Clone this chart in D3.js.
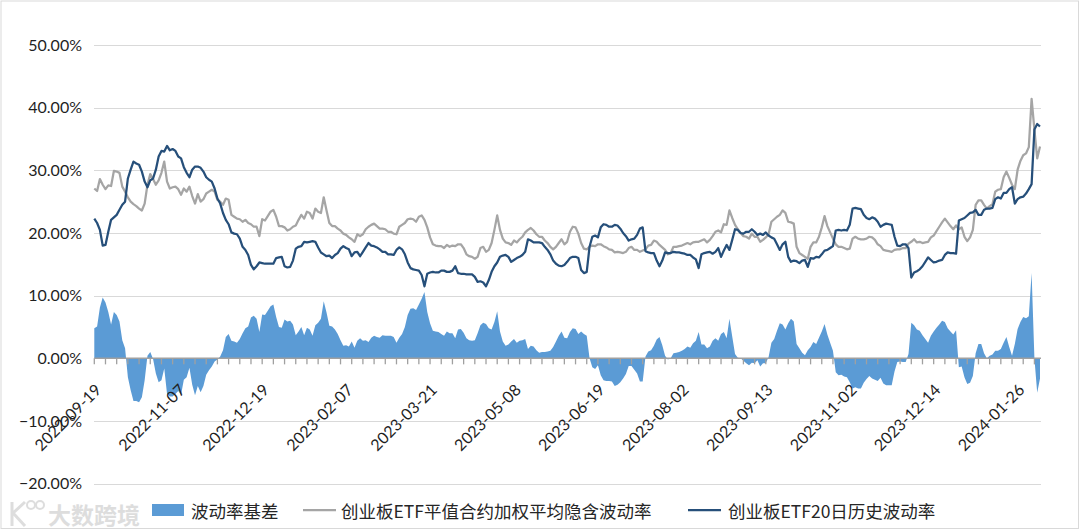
<!DOCTYPE html>
<html><head><meta charset="utf-8">
<script src="https://cdn.jsdelivr.net/npm/d3@7"></script>
<style>html,body{margin:0;padding:0;background:#fff;} svg{display:block;}</style>
</head><body>
<svg id="chart" width="1080" height="530"></svg>
<script>
// ---- data (trading-day index on the category axis) ----
const tickIndex  = [0,30,60,90,120,150,180,210,240,270,300,330];
const tickLabels = ["2022-09-19","2022-11-07","2022-12-19","2023-02-07","2023-03-21","2023-05-08",
                    "2023-06-19","2023-08-02","2023-09-13","2023-11-02","2023-12-14","2024-01-26"];
const yTicks = [-20,-10,0,10,20,30,40,50];
const seriesNames = ["波动率基差","创业板ETF平值合约加权平均隐含波动率","创业板ETF20日历史波动率"];

// 创业板ETF平值合约加权平均隐含波动率 (%)
const impliedVol = [
27.1,26.7,28.6,27.7,27.0,27.6,27.5,29.9,29.8,29.6,
27.4,26.6,25.7,25.0,24.6,24.3,23.9,23.6,24.7,27.7,
29.4,28.6,27.7,28.4,29.6,31.4,28.2,27.1,27.3,27.4,
27.0,26.1,27.1,26.6,27.4,25.9,24.7,26.2,25.0,25.4,
26.3,26.6,
26.9,26.6,25.3,25.0,24.5,25.5,25.3,22.9,22.6,
22.3,22.2,21.8,22.1,21.6,21.4,21.0,21.0,19.5,22.2,
22.0,22.7,23.4,23.7,22.6,21.1,21.1,20.9,20.4,20.6,
21.0,21.2,22.1,22.9,22.3,23.4,23.2,22.3,23.9,23.4,
23.2,25.7,23.6,21.6,21.1,21.1,20.7,20.4,19.9,19.7,
19.3,19.0,18.6,19.8,19.5,19.8,20.6,21.0,21.3,21.5,
21.1,20.7,20.7,20.6,20.2,20.2,19.9,19.8,21.0,21.3,
21.6,22.2,22.3,22.2,21.8,22.6,22.8,22.1,20.9,19.3,
18.2,18.0,
17.9,17.9,17.6,18.1,17.8,18.0,17.9,18.2,18.2,
17.6,16.6,16.3,16.2,15.9,16.2,17.6,17.8,17.0,17.3,
18.4,20.5,22.8,20.5,19.1,18.5,18.4,18.1,18.8,18.5,
19.0,19.4,20.1,20.5,20.8,20.4,19.8,19.4,19.4,18.8,
18.4,17.8,17.4,17.8,18.4,19.0,18.2,18.6,20.2,21.0,
20.9,19.9,18.4,17.5,17.4,17.8,18.0,17.9,18.2,18.2,
17.9,17.7,17.4,17.3,16.9,17.0,16.9,16.8,17.0,17.6,
17.8,17.3,17.3,17.0,17.2,17.4,18.0,18.1,18.8,18.6,
18.1,17.7,17.3,16.6,16.8,17.8,17.8,17.9,
18.0,18.2,18.4,
18.2,18.5,18.6,18.6,18.8,19.0,18.5,18.9,19.5,20.2,
20.4,20.1,21.4,21.3,23.6,22.4,21.3,20.6,20.0,19.5,
19.4,19.1,19.9,19.4,19.4,18.6,18.9,19.3,19.8,21.8,
22.2,22.6,22.9,23.6,23.2,21.8,21.7,21.5,17.8,16.8,
16.5,16.2,15.9,17.8,18.5,18.5,19.4,20.9,22.7,21.1,
20.1,19.1,18.2,17.8,17.8,17.6,17.4,17.5,19.1,19.4,
19.1,19.0,19.0,19.1,19.4,19.3,18.9,18.2,17.9,17.3,
17.2,17.1,
17.0,17.3,17.4,17.4,17.6,17.6,18.3,18.6,19.0,
18.5,18.6,18.4,18.5,18.6,19.3,19.6,20.3,21.0,21.7,
22.3,21.7,21.1,20.6,21.2,20.6,20.9,19.4,18.7,19.3,
20.5,24.5,25.2,25.2,24.5,23.9,24.3,24.6,26.6,26.9,
27.0,28.9,29.8,28.8,27.7,27.0,30.1,31.5,32.4,32.7,
33.7,41.4,36.5,31.9,33.8
];

// 创业板ETF20日历史波动率 (%)
const histVol = [
22.3,21.6,20.5,18.0,18.1,20.2,22.1,22.5,22.9,23.7,
24.5,25.0,28.7,30.1,31.4,31.1,30.9,29.8,28.2,27.3,
28.4,28.7,30.1,32.2,33.1,33.0,33.9,33.2,33.4,33.1,
32.2,31.9,30.5,29.6,28.9,30.1,30.6,30.6,30.4,29.8,
28.9,28.5,
28.2,27.1,25.5,24.7,23.2,22.1,21.4,20.1,19.9,
19.8,19.1,17.8,17.3,16.5,14.9,14.2,14.7,15.3,15.2,
15.1,15.1,15.1,15.1,16.0,16.1,16.2,14.7,14.5,14.6,
15.6,17.5,17.8,17.9,18.6,18.5,18.6,18.7,18.6,17.7,
16.9,16.6,16.3,16.4,16.0,16.5,16.8,17.5,17.9,17.6,
17.4,16.3,16.9,17.0,16.3,17.0,17.7,18.4,18.0,17.9,
17.7,17.4,17.0,17.0,16.6,16.6,16.5,17.3,17.7,17.4,
16.6,15.3,14.4,14.2,14.1,14.0,13.3,11.5,13.5,13.7,
13.8,13.7,
13.7,14.0,14.0,13.8,13.8,14.0,14.7,13.6,13.5,
13.5,13.4,13.4,13.4,13.0,12.2,12.3,12.1,11.5,12.5,
13.8,14.7,15.3,16.2,16.4,16.5,16.2,15.4,15.7,16.0,
16.2,16.5,17.0,19.0,18.8,18.5,18.5,18.5,18.4,17.8,
17.3,16.6,15.6,15.1,14.8,14.7,14.9,15.4,16.0,16.2,
16.2,16.0,14.1,13.6,13.8,17.8,19.4,19.6,19.3,20.9,
21.4,21.3,21.0,21.0,21.3,21.2,20.7,20.0,19.5,18.8,
19.0,19.1,19.7,20.7,20.9,17.1,16.9,16.8,16.8,15.6,
14.7,15.6,16.9,16.8,16.8,17.0,16.9,16.9,
16.8,16.7,16.5,
16.5,16.1,15.8,14.4,16.6,16.8,16.9,17.0,16.7,17.0,
17.6,16.2,17.2,18.1,17.3,18.9,20.6,20.5,20.0,19.9,
20.2,20.2,20.6,20.2,19.7,19.9,19.7,20.1,19.6,19.3,
19.1,18.2,17.3,18.2,18.6,16.2,15.4,15.6,15.5,15.2,
15.6,15.7,14.6,16.0,15.9,16.2,16.1,16.6,17.2,17.3,
17.6,17.9,20.4,20.5,20.4,20.5,20.4,21.3,23.9,24.0,
23.9,23.8,22.9,22.4,22.2,22.5,22.3,21.8,21.0,21.3,
21.5,21.4,
21.3,19.4,18.0,17.9,18.2,18.2,17.6,12.9,13.7,
13.9,14.2,14.7,15.4,16.1,15.7,15.3,15.4,15.6,15.7,
16.5,16.9,16.8,16.8,16.7,22.0,22.2,22.4,22.8,23.2,
23.3,23.7,22.9,22.9,23.7,23.9,23.9,24.0,25.4,25.7,
25.5,26.4,26.4,27.0,27.3,24.7,25.4,25.7,25.8,26.3,
27.0,27.8,36.5,37.4,37.0
];

// 波动率基差 = 隐含波动率 - 历史波动率
const basisVol = impliedVol.map((v, i) => +(v - histVol[i]).toFixed(2));

// ---- drawing ----
const svg = d3.select("#chart");
const W = 1080, H = 530;
const n = impliedVol.length;
const x = d3.scaleLinear().domain([0, n - 1]).range([94.3, 1040]);
const y = d3.scaleLinear().domain([-20, 50]).range([483.7, 45]);

const FONT_NUM = "Lato, 'Liberation Sans', sans-serif";
const FONT_CJK = "'Noto Sans CJK SC', 'Noto Sans', sans-serif";

// chart border
svg.append("rect").attr("x", 1).attr("y", 1).attr("width", W - 2.5).attr("height", H - 2.5)
  .attr("fill", "#fff").attr("stroke", "#d9d9d9").attr("stroke-width", 1);

// gridlines
svg.append("g").selectAll("line").data(yTicks.filter(t => t !== 0)).join("line")
  .attr("x1", 94).attr("x2", 1041)
  .attr("y1", d => Math.round(y(d)) + 0.5).attr("y2", d => Math.round(y(d)) + 0.5)
  .attr("stroke", "#d9d9d9").attr("stroke-width", 1);

// y axis labels
const yAxis = d3.axisLeft(y).tickValues(yTicks).tickSize(0).tickPadding(0)
  .tickFormat(d => d3.format(".2f")(d) + "%");
const gy = svg.append("g").attr("transform", "translate(82,0)").call(yAxis);
gy.select(".domain").remove();
gy.selectAll("text").attr("font-family", FONT_NUM).attr("font-size", 16).attr("fill", "#1f1f1f");

// basis area
const area = d3.area().x((d, i) => x(i)).y0(y(0)).y1(d => y(d));
svg.append("path").datum(basisVol).attr("d", area).attr("fill", "#5b9bd5");

// category axis at 0 with tick marks every 4 trading days
const tickMarks = d3.range(0, n, 4);
const gx = svg.append("g");
gx.append("line").attr("x1", 94.3).attr("x2", 1041).attr("y1", y(0)).attr("y2", y(0))
  .attr("stroke", "#a0a0a0").attr("stroke-width", 1.5);
gx.selectAll("line.tk").data(tickMarks).join("line").attr("class", "tk")
  .attr("x1", d => x(d)).attr("x2", d => x(d))
  .attr("y1", y(0)).attr("y2", y(0) + 6)
  .attr("stroke", "#a0a0a0").attr("stroke-width", 1.3);
gx.selectAll("text").data(tickIndex).join("text")
  .attr("transform", d => `translate(${x(d) + 8},${391}) rotate(-45)`)
  .attr("text-anchor", "end")
  .attr("font-family", FONT_NUM).attr("font-size", 16).attr("fill", "#1f1f1f")
  .text((d, i) => tickLabels[i]);

// lines
const line = d3.line().x((d, i) => x(i)).y(d => y(d));
svg.append("path").datum(impliedVol).attr("d", line).attr("fill", "none")
  .attr("stroke", "#a5a5a5").attr("stroke-width", 2.25).attr("stroke-linejoin", "round");
svg.append("path").datum(histVol).attr("d", line).attr("fill", "none")
  .attr("stroke", "#264f7a").attr("stroke-width", 2.25).attr("stroke-linejoin", "round");

// legend
const ly = 510;
const leg = svg.append("g");
leg.append("rect").attr("x", 152).attr("y", ly - 6).attr("width", 32).attr("height", 12).attr("fill", "#5b9bd5");
leg.append("text").attr("x", 191).attr("y", ly).attr("dominant-baseline", "central")
  .attr("font-family", FONT_CJK).attr("font-size", 17.5).attr("fill", "#262626").text(seriesNames[0]);
leg.append("line").attr("x1", 303).attr("x2", 336).attr("y1", ly).attr("y2", ly)
  .attr("stroke", "#a5a5a5").attr("stroke-width", 2.25);
leg.append("text").attr("x", 341).attr("y", ly).attr("dominant-baseline", "central")
  .attr("font-family", FONT_CJK).attr("font-size", 17.5).attr("fill", "#262626").text(seriesNames[1]);
leg.append("line").attr("x1", 688).attr("x2", 721).attr("y1", ly).attr("y2", ly)
  .attr("stroke", "#264f7a").attr("stroke-width", 2.25);
leg.append("text").attr("x", 728).attr("y", ly).attr("dominant-baseline", "central")
  .attr("font-family", FONT_CJK).attr("font-size", 17.5).attr("fill", "#262626").text(seriesNames[2]);

// watermark
const wm = svg.append("g").attr("opacity", 0.6);
wm.append("path").attr("d", "M12,502 L12,526 M12,514 L25,502 M14,514 L25,526")
  .attr("stroke", "#c8c8c8").attr("stroke-width", 3).attr("fill", "none");
wm.append("circle").attr("cx", 31).attr("cy", 505).attr("r", 4).attr("fill", "none").attr("stroke", "#c8c8c8").attr("stroke-width", 2);
wm.append("circle").attr("cx", 40).attr("cy", 505).attr("r", 4).attr("fill", "none").attr("stroke", "#c8c8c8").attr("stroke-width", 2);
wm.append("text").attr("x", 48).attr("y", 514).attr("dominant-baseline", "central")
  .attr("font-family", FONT_CJK).attr("font-weight", "bold").attr("font-size", 23)
  .attr("fill", "#c8c8c8").text("大数跨境");
</script>
</body></html>
